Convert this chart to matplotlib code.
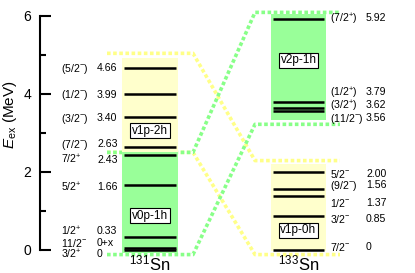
import matplotlib
matplotlib.use('Agg')
import matplotlib.pyplot as plt
from matplotlib.patches import Rectangle

plt.rcParams['font.family'] = ['Liberation Sans', 'DejaVu Sans']
plt.rcParams['mathtext.fontset'] = 'custom'
plt.rcParams['mathtext.rm'] = 'Liberation Sans'
plt.rcParams['mathtext.it'] = 'Liberation Sans:italic'

# 131Sn levels (0+x drawn just above 0)
sn131_E = [0, 0.05, 0.33, 1.66, 2.43, 2.63, 3.40, 3.99, 4.66]
sn131_spin = ['3/2$^{+}$', '11/2$^{-}$', '1/2$^{+}$', '5/2$^{+}$', '7/2$^{+}$',
              '(7/2$^{-}$)', '(3/2$^{-}$)', '(1/2$^{-}$)', '(5/2$^{-}$)']
sn131_elab = ['0', '0+x', '0.33', '1.66', '2.43', '2.63', '3.40', '3.99', '4.66']
sn131_laby = [-0.10, 0.18, 0.49, 1.62, 2.33, 2.74, 3.41, 4.00, 4.67]

# 133Sn levels
sn133_E = [0, 0.85, 1.37, 1.56, 2.00, 3.56, 3.62, 3.79, 5.92]
sn133_spin = ['7/2$^{-}$', '3/2$^{-}$', '1/2$^{-}$', '(9/2$^{-}$)', '5/2$^{-}$',
              '(11/2$^{-}$)', '(3/2$^{+}$)', '(1/2$^{+}$)', '(7/2$^{+}$)']
sn133_elab = ['0', '0.85', '1.37', '1.56', '2.00', '3.56', '3.62', '3.79', '5.92']
sn133_laby = [0.08, 0.82, 1.23, 1.69, 1.97, 3.41, 3.74, 4.06, 5.95]

# configuration groups: name, nucleus column, lower, upper, colour
groups = ['v0p-1h', 'v1p-2h', 'v1p-0h', 'v2p-1h']
group_col = [0, 0, 1, 1]
group_lo = [-0.08, 2.50, -0.03, 3.31]
group_hi = [2.50, 4.90, 2.20, 6.05]
group_laby = [0.87, 3.05, 0.49, 4.85]
group_fill = ['#99ff99', '#ffffcc', '#ffffcc', '#99ff99']

# dotted correspondence outlines (left level -> right level)
link_left = [5.03, 2.49, 2.49, -0.13]
link_right = [2.28, -0.13, 6.08, 3.21]
link_color = ['#ffff88', '#ffff88', '#88ff88', '#88ff88']

col_x0 = [124, 273]
col_x1 = [176, 324]
box_x0 = [122, 271]
box_x1 = [178, 326]
spin_x = [61, 330]
elab_x = [97, 366]
nuclei = ['$^{131}$Sn', '$^{133}$Sn']

fig = plt.figure(figsize=(4.15, 2.73), dpi=100)
ax = fig.add_axes([0, 0, 1, 1])
ax.set_xlim(0, 415)
ax.set_ylim(-(273 - 249.5) / 39, 249.5 / 39)

for yl, yr, c in zip(link_left, link_right, link_color):
    ax.plot([107, 193, 255, 340], [yl, yl, yr, yr], color=c, lw=2.6,
            linestyle=(0, (1, 0.7)), zorder=1, solid_capstyle='butt')

for g, ci, lo, hi, ly, fc in zip(groups, group_col, group_lo, group_hi, group_laby, group_fill):
    ax.add_patch(Rectangle((box_x0[ci], lo), box_x1[ci] - box_x0[ci], hi - lo,
                           facecolor=fc, edgecolor='none', zorder=2))
    ax.text((box_x0[ci] + box_x1[ci]) / 2, ly, g, ha='center', va='center',
            fontsize=8.5, zorder=5,
            bbox=dict(boxstyle='square,pad=0.15', fc='white', ec='black', lw=0.8))

for ci, (E, spin, elab, laby) in enumerate([(sn131_E, sn131_spin, sn131_elab, sn131_laby),
                                           (sn133_E, sn133_spin, sn133_elab, sn133_laby)]):
    ax.hlines(E, col_x0[ci], col_x1[ci], color='black', lw=1.8, zorder=3)
    for s, el, y in zip(spin, elab, laby):
        ax.text(spin_x[ci], y, s, fontsize=7.6, ha='left', va='center_baseline')
        ax.text(elab_x[ci], y, el, fontsize=7.6, ha='left', va='center_baseline')
    ax.text((box_x0[ci] + box_x1[ci]) / 2, -0.54, nuclei[ci], fontsize=12,
            ha='center', va='baseline')

for s in ['top', 'right', 'bottom']:
    ax.spines[s].set_visible(False)
ax.spines['left'].set_position(('data', 39.5))
ax.spines['left'].set_bounds(0, 6)
ax.spines['left'].set_linewidth(1.5)
ax.set_xticks([])
ax.set_yticks([0, 2, 4, 6])
ax.set_yticks([1, 3, 5], minor=True)
ax.tick_params(axis='y', which='major', direction='in', length=8, width=1.5,
               labelsize=10, pad=6)
ax.tick_params(axis='y', which='minor', direction='in', length=4.3, width=1.5)
ax.text(10, 3.45, r'$E_{\rm ex}$ (MeV)', rotation=90, fontsize=11,
        ha='center', va='center')

fig.savefig('out.png', dpi=100)
